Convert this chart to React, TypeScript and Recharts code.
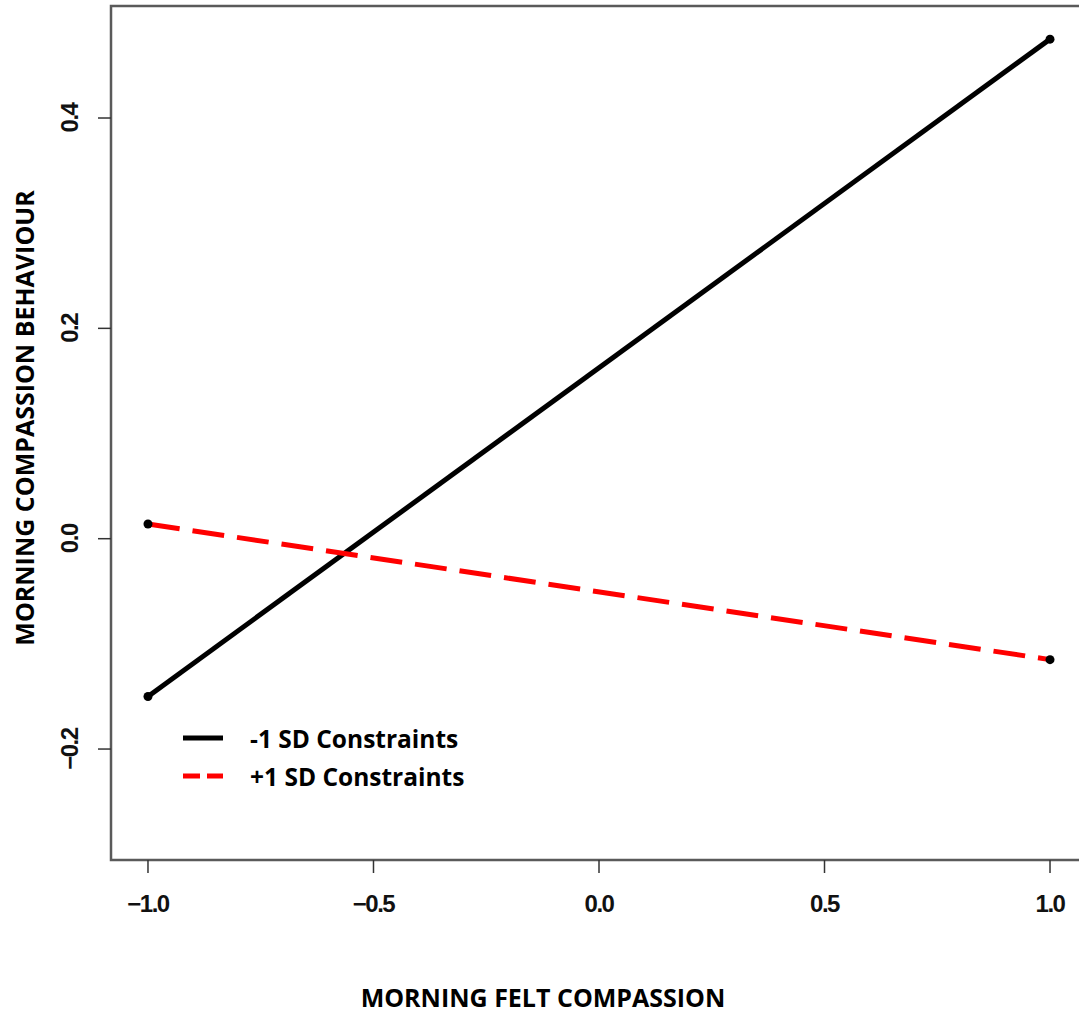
import React from 'react';
import { LineChart, Line, XAxis, YAxis, ReferenceArea, Legend } from 'recharts';

// morning felt compassion (x) at -1 / +1 SD
const feltCompassion = [-1, 1];
// predicted behaviour for low vs high constraints
const lowConstraints = [-0.15, 0.475];
const highConstraints = [0.014, -0.115];
const seriesNames = ['-1 SD Constraints', '+1 SD Constraints'];
const xTicks = [-1, -0.5, 0, 0.5, 1];
const yTicks = [-0.2, 0, 0.2, 0.4];

const X_DOMAIN: [number, number] = [-1.082, 1.082];
const Y_DOMAIN: [number, number] = [-0.3055, 0.5065];

const data = feltCompassion.map((x, i) => ({
  x,
  low: lowConstraints[i],
  high: highConstraints[i],
}));

const TITLE_FONT = '"Open Sans", "Noto Sans", sans-serif';
const TICK_FONT = '"Liberation Sans", Arial, sans-serif';

const fmt = (v: number) => (v < 0 ? '\u2212' : '') + Math.abs(v).toFixed(1);

const XTick = (props: any) => {
  const { x, y, payload } = props;
  return (
    <text
      x={x}
      y={y + 37}
      textAnchor="middle"
      fontFamily={TICK_FONT}
      fontWeight="bold"
      fontSize={24}
      letterSpacing={-1.5}
      fill="#111"
    >
      {fmt(payload.value)}
    </text>
  );
};

const YTick = (props: any) => {
  const { x, y, payload } = props;
  const bx = x - 18;
  return (
    <text
      x={bx}
      y={y}
      transform={`rotate(-90, ${bx}, ${y})`}
      textAnchor="middle"
      fontFamily={TICK_FONT}
      fontWeight="bold"
      fontSize={24}
      letterSpacing={-1.5}
      fill="#111"
    >
      {fmt(payload.value)}
    </text>
  );
};

const dot = { r: 4.5, fill: '#000', stroke: '#000', strokeWidth: 0, strokeDasharray: '' };

const LegendBox = () => (
  <div style={{ fontFamily: TITLE_FONT, fontWeight: 700, fontSize: 24.5, color: '#000' }}>
    {seriesNames.map((name, i) => (
      <div key={name} style={{ display: 'flex', alignItems: 'center', height: 38 }}>
        <svg width={40} height={10} style={{ marginRight: 27 }}>
          <line
            x1={0}
            y1={5}
            x2={40}
            y2={5}
            stroke={i === 0 ? '#000' : '#ff0000'}
            strokeWidth={5}
            strokeDasharray={i === 0 ? undefined : '17 7'}
          />
        </svg>
        <span>{name}</span>
      </div>
    ))}
  </div>
);

export default function App() {
  return (
    <div
      style={{
        position: 'absolute',
        left: 0,
        top: 0,
        width: 1079,
        height: 1014,
        overflow: 'hidden',
        background: '#fff',
      }}
    >
      <LineChart
        width={1100}
        height={1014}
        data={data}
        margin={{ top: 6, right: 13, left: 0, bottom: 0 }}
      >
        <ReferenceArea
          x1={X_DOMAIN[0]}
          x2={X_DOMAIN[1]}
          y1={Y_DOMAIN[0]}
          y2={Y_DOMAIN[1]}
          fill="none"
          stroke="#5a5a5a"
          strokeWidth={2.5}
          ifOverflow="visible"
        />
        <XAxis
          dataKey="x"
          type="number"
          domain={X_DOMAIN}
          ticks={xTicks}
          allowDataOverflow
          height={154}
          axisLine={false}
          tickSize={13}
          tickMargin={2}
          tickLine={{ stroke: '#333', strokeWidth: 1.5 }}
          tick={<XTick />}
          label={{
            content: (p: any) => {
              const vb = p.viewBox;
              return (
                <text
                  x={543}
                  y={vb.y + 147}
                  textAnchor="middle"
                  fontFamily={TITLE_FONT}
                  fontWeight="bold"
                  fontSize={25}
                  fill="#000"
                >
                  MORNING FELT COMPASSION
                </text>
              );
            },
          }}
        />
        <YAxis
          type="number"
          domain={Y_DOMAIN}
          ticks={yTicks}
          allowDataOverflow
          width={111}
          axisLine={false}
          tickSize={13}
          tickMargin={2}
          tickLine={{ stroke: '#333', strokeWidth: 1.5 }}
          tick={<YTick />}
          label={{
            content: () => (
              <text
                x={34}
                y={418}
                transform="rotate(-90, 34, 418)"
                textAnchor="middle"
                fontFamily={TITLE_FONT}
                fontWeight="bold"
                fontSize={25}
                fill="#000"
              >
                MORNING COMPASSION BEHAVIOUR
              </text>
            ),
          }}
        />
        <Legend
          layout="vertical"
          align="center"
          verticalAlign="middle"
          content={<LegendBox />}
          wrapperStyle={{ left: 183, top: 719, width: 340, height: 80 }}
        />
        <Line
          dataKey="low"
          name={seriesNames[0]}
          stroke="#000"
          strokeWidth={5}
          dot={dot}
          activeDot={false}
          isAnimationActive={false}
        />
        <Line
          dataKey="high"
          name={seriesNames[1]}
          stroke="#ff0000"
          strokeWidth={5}
          strokeDasharray="32 13"
          dot={dot}
          activeDot={false}
          isAnimationActive={false}
        />
      </LineChart>
    </div>
  );
}
